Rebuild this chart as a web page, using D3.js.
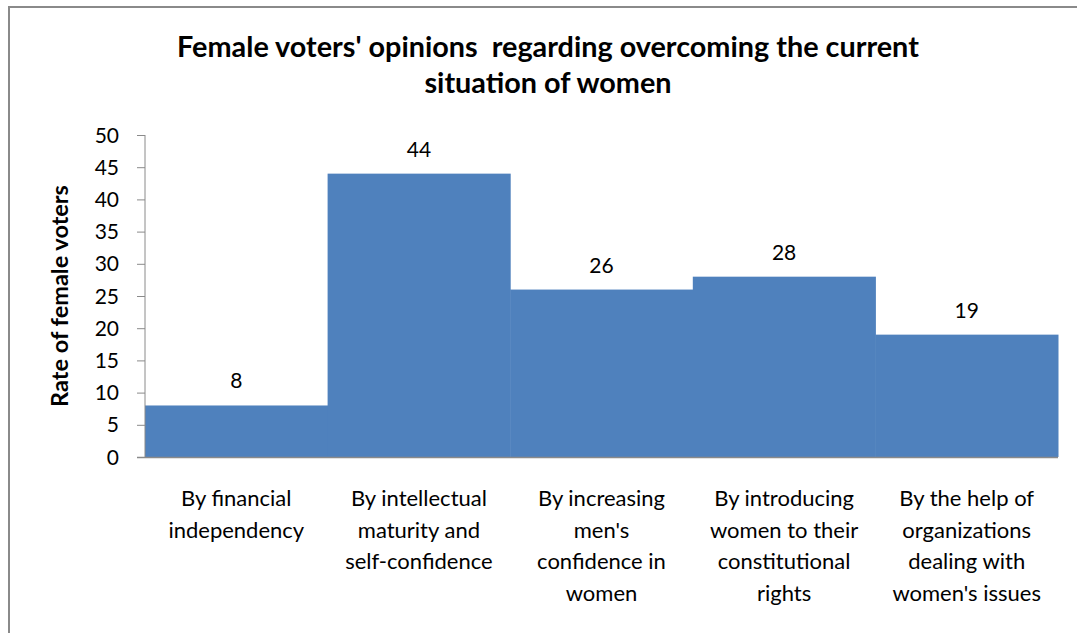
<!DOCTYPE html>
<html><head><meta charset="utf-8">
<script src="https://cdn.jsdelivr.net/npm/d3@7/dist/d3.min.js"></script>
<style>body{margin:0;background:#fff;} svg{display:block;}</style>
</head><body>
<svg id="c" width="1077" height="633"></svg>
<script>
const categories = [
  ["By financial","independency"],
  ["By intellectual","maturity and","self-confidence"],
  ["By increasing","men's","confidence in","women"],
  ["By introducing","women to their","constitutional","rights"],
  ["By the help of","organizations","dealing with","women's issues"]
];
const values = [8, 44, 26, 28, 19];
const yTicks = [0,5,10,15,20,25,30,35,40,45,50];
const titleLines = ["Female voters' opinions  regarding overcoming the current","situation of women"];
const yTitle = "Rate of female voters";

const svg = d3.select("#c");
const font = "Lato, 'Open Sans', sans-serif";
// frame
svg.append("path").attr("d","M9,633 V7 H1077").attr("fill","none").attr("stroke","#8a8a8a").attr("stroke-width",2);

const x = d3.scaleBand().domain(d3.range(values.length)).range([145,1058]).padding(0);
const y = d3.scaleLinear().domain([0,50]).range([457,135]);

// bars
svg.append("g").selectAll("rect").data(values).join("rect")
  .attr("x",(d,i)=>x(i)).attr("width",x.bandwidth()+0.5)
  .attr("y",d=>y(d)).attr("height",d=>y(0)-y(d))
  .attr("fill","#4f81bd");

// y axis
const ya = svg.append("g").attr("transform","translate(145,0)")
  .call(d3.axisLeft(y).tickValues(yTicks).tickSize(8).tickPadding(18));
ya.select(".domain").attr("stroke","#8a8a8a").attr("d","M0,135V457");
ya.selectAll(".tick line").attr("stroke","#8a8a8a");
ya.selectAll(".tick text").attr("font-family",font).attr("font-size",21).attr("fill","#000").attr("dy","0.34em");

// x axis baseline
svg.append("line").attr("x1",137).attr("x2",1058).attr("y1",457.5).attr("y2",457.5).attr("stroke","#8a8a8a").attr("stroke-width",1.5);

// value labels
svg.append("g").selectAll("text").data(values).join("text")
  .attr("x",(d,i)=>x(i)+x.bandwidth()/2).attr("y",d=>y(d)-17)
  .attr("text-anchor","middle").attr("font-family",font).attr("font-size",21).attr("fill","#000")
  .text(d=>d);

// category labels
const cg = svg.append("g");
categories.forEach((lines,i)=>{
  const t = cg.append("text").attr("x",x(i)+x.bandwidth()/2).attr("y",506)
    .attr("text-anchor","middle").attr("font-family",font).attr("font-size",22).attr("fill","#000");
  lines.forEach((l,j)=>t.append("tspan").attr("x",x(i)+x.bandwidth()/2).attr("y",506+j*31.5).text(l));
});

// title
titleLines.forEach((l,j)=>svg.append("text").attr("x",548).attr("y",57+j*36)
  .attr("text-anchor","middle").attr("font-family",font).attr("font-weight","bold").attr("font-size",28.8)
  .attr("fill","#000").style("white-space","pre").text(l));

// y title
svg.append("text").attr("transform","translate(68,296) rotate(-90)")
  .attr("text-anchor","middle").attr("font-family",font).attr("font-weight","bold").attr("font-size",23.5)
  .attr("fill","#000").text(yTitle);
</script>
</body></html>
